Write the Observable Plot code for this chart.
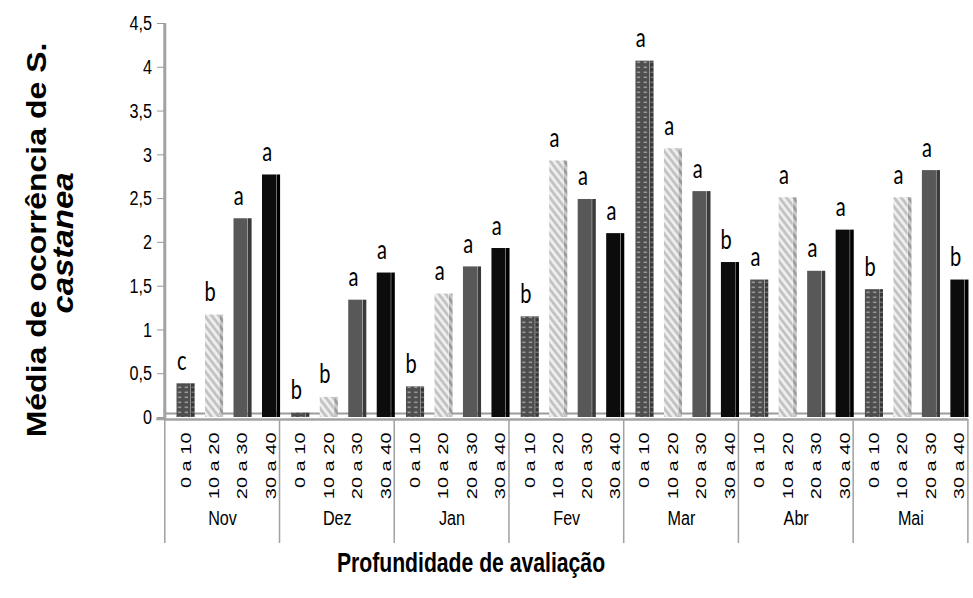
<!DOCTYPE html>
<html>
<head>
<meta charset="utf-8">
<script src="https://cdn.jsdelivr.net/npm/d3@7"></script>
<script src="https://cdn.jsdelivr.net/npm/@observablehq/plot@0.6"></script>
<style>
  html, body { margin: 0; padding: 0; background: #ffffff; }
  #chart { width: 973px; height: 598px; overflow: hidden; }
</style>
</head>
<body>
<div id="chart"></div>
<script>
// ---- Data ----
const months = ["Nov", "Dez", "Jan", "Fev", "Mar", "Abr", "Mai"];
const depths = ["0 a 10", "10 a 20", "20 a 30", "30 a 40"];

const valuesNov = [0.385, 1.17, 2.27, 2.77];
const valuesDez = [0.05, 0.23, 1.34, 1.65];
const valuesJan = [0.35, 1.41, 1.72, 1.93];
const valuesFev = [1.15, 2.93, 2.49, 2.10];
const valuesMar = [4.07, 3.07, 2.58, 1.77];
const valuesAbr = [1.57, 2.51, 1.67, 2.14];
const valuesMai = [1.46, 2.51, 2.82, 1.57];

const lettersNov = ["c", "b", "a", "a"];
const lettersDez = ["b", "b", "a", "a"];
const lettersJan = ["b", "a", "a", "a"];
const lettersFev = ["b", "a", "a", "a"];
const lettersMar = ["a", "a", "a", "b"];
const lettersAbr = ["a", "a", "a", "a"];
const lettersMai = ["b", "a", "a", "b"];

const yTicks = [0, 0.5, 1, 1.5, 2, 2.5, 3, 3.5, 4, 4.5];
const yTickLabels = ["0", "0,5", "1", "1,5", "2", "2,5", "3", "3,5", "4", "4,5"];

const yTitle1 = "Média de ocorrência de S.";
const yTitle2 = "castanea";
const xTitle = "Profundidade de avaliação";

// ---- Build table ----
const valuesByMonth = [valuesNov, valuesDez, valuesJan, valuesFev, valuesMar, valuesAbr, valuesMai];
const lettersByMonth = [lettersNov, lettersDez, lettersJan, lettersFev, lettersMar, lettersAbr, lettersMai];
const data = [];
months.forEach((m, i) => depths.forEach((d, j) => {
  data.push({month: m, depth: d, di: j, value: valuesByMonth[i][j], letter: lettersByMonth[i][j]});
}));

// ---- Styles ----
const frontFill = ["url(#pDots)", "url(#pStripes)", "#585858", "#0c0c0c"];
const sideFill = ["url(#pDotsSide)", "url(#pStripesSide)", "#3a3a3a", "#000000"];

const SX = 0.77;               // horizontal compression of the reference
const W = 973 / SX, H = 598;
const FONT = "'Liberation Sans', Arial, Helvetica, sans-serif";

const plot = Plot.plot({
  width: W,
  height: H,
  marginLeft: 211,
  marginRight: 3,
  marginTop: 23,
  marginBottom: 181,
  style: {fontFamily: FONT, fontSize: "20px", background: "white", color: "black", overflow: "visible"},
  fx: {domain: months, padding: 0, label: null},
  x: {domain: depths, padding: 0, label: null},
  y: {domain: [0, 4.5], label: null},
  color: {type: "identity"},
  marks: [
    Plot.ruleY([0], {stroke: "#9c9c9c", strokeWidth: 2, dy: -4}),
    Plot.barY(data, {fx: "month", x: "depth", y: "value", fill: d => frontFill[d.di], insetLeft: 14.25, insetRight: 4.45}),
    Plot.barY(data, {fx: "month", x: "depth", y: "value", fill: d => sideFill[d.di], insetLeft: 33.05, insetRight: -0.75}),
    Plot.ruleY([0], {stroke: "#a3a3a3", strokeWidth: 2.6, dy: 2}),
    Plot.text(data, {fx: "month", x: "depth", y: "value", text: "letter", lineAnchor: "bottom", dy: -14, dx: 2,
      fontSize: 26, fontFamily: "Lato, 'Open Sans', sans-serif", fill: "black"}),
    Plot.axisY({ticks: yTicks, tickFormat: d => yTickLabels[yTicks.indexOf(d)], tickSize: 10, tickPadding: 7,
      fontSize: 21, stroke: "#8a8a8a", fill: "black", label: null}),
    Plot.axisX({tickRotate: -90, tickSize: 0, tickPadding: 15, fontSize: 20, dx: 7, fill: "black", label: null}),
    Plot.axisFx({anchor: "bottom", tickSize: 0, tickPadding: 93, fontSize: 21, fill: "black", label: null})
  ]
});

// ---- Patterns & decorations ----
const svg = d3.select(plot.tagName.toLowerCase() === "svg" ? plot : plot.querySelector("svg"));
const defs = svg.insert("defs", ":first-child");

function dots(id, base, dot) {
  const p = defs.append("pattern").attr("id", id).attr("patternUnits", "userSpaceOnUse")
    .attr("width", 8.7).attr("height", 5);
  p.append("rect").attr("width", 8.7).attr("height", 5).attr("fill", base);
  p.append("rect").attr("x", 2).attr("y", 1.5).attr("width", 4.2).attr("height", 1.6).attr("fill", dot);
}
function stripes(id, bg, fg) {
  const p = defs.append("pattern").attr("id", id).attr("patternUnits", "userSpaceOnUse")
    .attr("width", 6.5).attr("height", 6.5).attr("patternTransform", "rotate(-45)");
  p.append("rect").attr("width", 6.5).attr("height", 6.5).attr("fill", bg);
  p.append("rect").attr("width", 3.2).attr("height", 6.5).attr("fill", fg);
}
dots("pDots", "#4e4e4e", "#9a9a9a");
dots("pDotsSide", "#383838", "#6e6e6e");
stripes("pStripes", "#eeeeee", "#c2c2c2");
stripes("pStripesSide", "#c8c8c8", "#9a9a9a");

const fx = plot.scale("fx");
const y = plot.scale("y");
const y0 = y.apply(0);
const left = fx.apply(months[0]);
const bw = fx.bandwidth;
const deco = svg.append("g").attr("stroke", "#a3a3a3").attr("fill", "none");

// y axis line
deco.append("line").attr("x1", left).attr("x2", left)
  .attr("y1", y.apply(4.5)).attr("y2", y0 + 2).attr("stroke-width", 4);
// group dividers
const bounds = months.map(m => fx.apply(m)).concat([fx.apply(months[months.length - 1]) + bw]);
bounds.forEach(bx => {
  deco.append("line").attr("x1", bx).attr("x2", bx).attr("y1", y0 + 2).attr("y2", y0 + 126)
    .attr("stroke-width", 2);
});
// short extension of the category axis to the left
deco.append("line").attr("x1", left - 11).attr("x2", left).attr("y1", y0 + 2).attr("y2", y0 + 2)
  .attr("stroke-width", 2.6);

// titles
const t1 = svg.append("g").attr("transform", `translate(47, 240) rotate(-90) scale(1,1.15)`);
t1.append("text").attr("text-anchor", "middle").attr("dy", "0.35em")
  .attr("font-family", FONT).attr("font-weight", "bold").attr("font-size", 32).attr("fill", "black")
  .text(yTitle1);
const t2 = svg.append("g").attr("transform", `translate(82, 243) rotate(-90) scale(1,1.15)`);
t2.append("text").attr("text-anchor", "middle").attr("dy", "0.35em")
  .attr("font-family", FONT).attr("font-weight", "bold").attr("font-style", "italic").attr("font-size", 33).attr("fill", "black")
  .text(yTitle2);
svg.append("text").attr("x", 471 / SX).attr("y", 572).attr("text-anchor", "middle")
  .attr("font-family", FONT).attr("font-weight", "bold").attr("font-size", 27.5).attr("fill", "black")
  .text(xTitle);

// horizontal compression to match the reference
const node = svg.node();
node.setAttribute("viewBox", `0 0 ${W} ${H}`);
node.setAttribute("preserveAspectRatio", "none");
node.setAttribute("width", 973);
node.setAttribute("height", 598);
node.style.width = "973px";
node.style.height = "598px";
node.style.maxWidth = "none";

document.getElementById("chart").appendChild(plot);
</script>
</body>
</html>
